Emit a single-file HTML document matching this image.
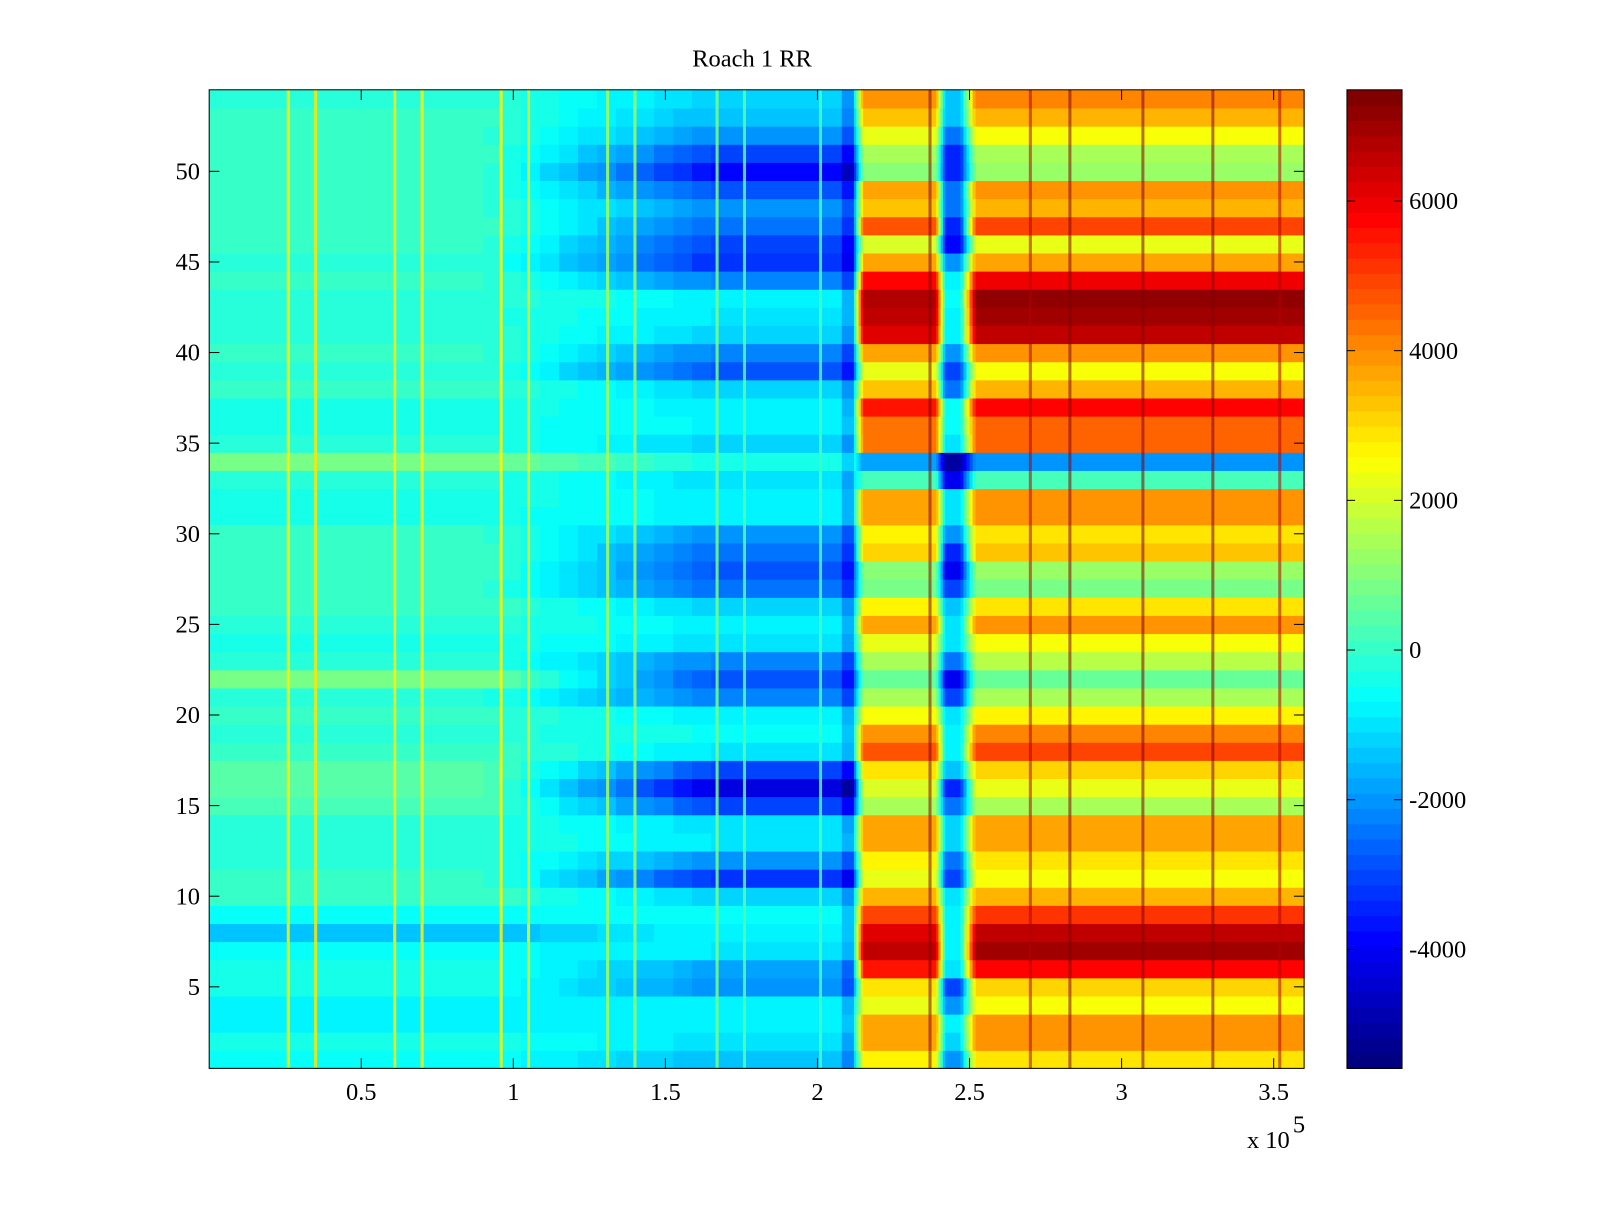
<!DOCTYPE html>
<html><head><meta charset="utf-8"><style>
html,body{margin:0;padding:0;background:#fff;}
svg text{font-family:"Liberation Serif","DejaVu Serif",serif;font-size:24px;fill:#000;}
</style></head><body>
<svg id="chart" width="1600" height="1200" viewBox="0 0 1568 1176" preserveAspectRatio="none" xmlns="http://www.w3.org/2000/svg">
<rect x="0" y="0" width="1568" height="1176" fill="#fff"/>
<text x="737" y="65" text-anchor="middle">Roach 1 RR</text>
<g id="cells"></g>
<g id="axes"></g>
<g id="cbar"></g>
</svg>
<script>
// Values listed from top row (54) down to bottom row (1)
const leftVals = [-100,0,0,100,0,0,0,100,0,-100,0,-100,-200,-100,0,-100,0,-300,-400,-200,900,-200,-300,-400,0,100,100,0,100,-200,-300,-100,900,-200,0,-200,100,400,400,300,-200,-200,-100,0,100,-500,-1500,-600,-300,-400,-700,-800,-400,-500];
const blueVals = [-1200,-1500,-2000,-3000,-3800,-2800,-2000,-2500,-3000,-3300,-2200,-800,-900,-1200,-2200,-2800,-1200,-800,-700,-1200,-400,-1000,-800,-800,-2000,-2500,-2800,-2500,-1200,-800,-1000,-2200,-2800,-2300,-800,-500,-900,-3000,-4200,-3000,-1000,-900,-2000,-3200,-1200,-600,-700,-900,-1800,-2000,-800,-700,-1000,-1500];
const hotVals = [4200,3500,2500,1500,1200,4000,3500,5000,2200,3800,6000,7200,7000,6500,4000,2500,3500,5800,4500,4500,-2000,300,4000,4000,2800,3200,1200,800,2800,4000,2500,1600,600,1500,2600,4200,5000,3000,2200,1500,3800,3800,2800,2500,3600,5200,6500,7000,5800,3000,2500,4000,4000,2800];
const notchVals = [-1500,-1500,-2500,-3500,-3500,-2500,-2500,-3500,-3800,-2000,-800,-500,-800,-800,-2000,-3000,-2500,-500,-500,-1000,-5000,-4000,-1000,-1000,-2000,-3500,-4000,-3000,-1500,-1000,-1000,-2500,-4000,-3000,-1000,-800,-800,-1500,-3500,-2500,-1200,-1200,-2500,-3000,-1000,-700,-700,-700,-1000,-3000,-2000,-800,-1200,-2000];
// Vertical streaks (x in units of 1e5) and their values
const streakX = [0.26,0.35,0.61,0.70,0.96,1.05,1.31,1.40,1.67,1.76,2.01];
const streakVals = [2600,2800,2600,2600,2700,2200,1500,1200,800,500,300];
const hotStreakX = [2.37,2.83,2.70,3.07,3.30,3.52];
const hotStreakVals = [7400,7400,6800,7400,7400,6800];
const xTicks = [0.5,1,1.5,2,2.5,3,3.5];
const yTicks = [5,10,15,20,25,30,35,40,45,50];
const cbTicks = [-4000,-2000,0,2000,4000,6000];

const NS = "http://www.w3.org/2000/svg";
const PL = 205, PR = 1278, PT = 88, PB = 1047;
const XMIN = 0, XMAX = 3.6, YMIN = 0.5, YMAX = 54.5;
const CMIN = -5590, CMAX = 7486;
function X(v){ return PL + (v - XMIN) / (XMAX - XMIN) * (PR - PL); }
function Y(v){ return PT + (YMAX - v) / (YMAX - YMIN) * (PB - PT); }
function jet(val){
  let t = (val - CMIN) / (CMAX - CMIN);
  t = Math.max(0, Math.min(1, t));
  t = Math.min(63, Math.floor(t * 64)) / 63;
  const c = x => Math.round(255 * Math.max(0, Math.min(1, x)));
  return `rgb(${c(1.5-Math.abs(4*t-3))},${c(1.5-Math.abs(4*t-2))},${c(1.5-Math.abs(4*t-1))})`;
}
function mk(tag, attrs, parent){
  const e = document.createElementNS(NS, tag);
  for (const k in attrs) e.setAttribute(k, attrs[k]);
  parent.appendChild(e);
  return e;
}
const cells = document.getElementById('cells');
function seg(x0, x1, v0, v1, row, steps){
  const y0 = Y(row + 0.5), y1 = Y(row - 0.5);
  for (let s = 0; s < steps; s++){
    const a = X(x0 + (x1 - x0) * s / steps), b = X(x0 + (x1 - x0) * (s + 1) / steps);
    const v = steps === 1 ? v0 : v0 + (v1 - v0) * (s + 0.5) / steps;
    const r = mk('rect', {x:a, y:y0, width:b - a + 0.6, height:y1 - y0 + 0.6, fill:jet(v)}, cells);
    
    
  }
}
for (let row = 1; row <= 54; row++){
  const k = 54 - row;
  const L = leftVals[k], B = blueVals[k], H = hotVals[k], N = notchVals[k];
  seg(0, 0.9, L, L, row, 1);
  seg(0.9, 1.65, L, B, row, 12);
  seg(1.65, 2.08, B, B, row, 1);
  seg(2.08, 2.12, B - 800, B - 800, row, 1);
  seg(2.12, 2.15, B, H * 0.95, row, 4);
  seg(2.15, 2.39, H * 0.95, H * 0.95, row, 1);
  seg(2.39, 2.42, H * 0.95, N, row, 4);
  seg(2.42, 2.47, N, N, row, 1);
  seg(2.47, 2.52, N, H, row, 5);
  seg(2.52, 3.6, H, H, row, 1);
}
for (let i = 0; i < streakX.length; i++){
  const l = mk('rect', {x:X(streakX[i]) - 1.5, y:PT, width:3, height:PB - PT, fill:jet(streakVals[i]), opacity:0.85}, cells);
  
  
}
for (let i = 0; i < hotStreakX.length; i++){
  const l = mk('rect', {x:X(hotStreakX[i]) - 1.5, y:PT, width:3, height:PB - PT, fill:jet(hotStreakVals[i]), opacity:0.55}, cells);
  
  
}
// axes
const axes = document.getElementById('axes');
const frame = mk('rect', {x:PL, y:PT, width:PR - PL, height:PB - PT, fill:'none', stroke:'#000', 'stroke-width':1}, axes);


xTicks.forEach(v => {
  const x = X(v);
  mk('line', {x1:x, y1:PB, x2:x, y2:PB - 10, stroke:'#000'}, axes);
  mk('line', {x1:x, y1:PT, x2:x, y2:PT + 10, stroke:'#000'}, axes);
  const t = mk('text', {x:x, y:PB + 31, 'text-anchor':'middle'}, axes);
  t.textContent = v;
  
  
});
yTicks.forEach(v => {
  const y = Y(v);
  mk('line', {x1:PL, y1:y, x2:PL + 10, y2:y, stroke:'#000'}, axes);
  mk('line', {x1:PR, y1:y, x2:PR - 10, y2:y, stroke:'#000'}, axes);
  const t = mk('text', {x:196, y:y + 8, 'text-anchor':'end'}, axes);
  t.textContent = v;
  
  
});
const ex = mk('text', {x:1222, y:1125}, axes);
ex.textContent = 'x 10';


const sup = mk('text', {x:1267, y:1110, 'font-size':'16'}, axes);
sup.textContent = '5';


// colorbar
const cb = document.getElementById('cbar');
const CL = 1320, CR = 1374;
function CY(v){ return PB - (v - CMIN) / (CMAX - CMIN) * (PB - PT); }
for (let i = 0; i < 64; i++){
  const v0 = CMIN + (CMAX - CMIN) * i / 64, v1 = CMIN + (CMAX - CMIN) * (i + 1) / 64;
  const r = mk('rect', {x:CL, y:CY(v1), width:CR - CL, height:CY(v0) - CY(v1) + 0.6, fill:jet((v0 + v1) / 2)}, cb);
  
  
}
mk('rect', {x:CL, y:PT, width:CR - CL, height:PB - PT, fill:'none', stroke:'#000'}, cb);
cbTicks.forEach(v => {
  const y = CY(v);
  mk('line', {x1:CL, y1:y, x2:CL + 8, y2:y, stroke:'#000'}, cb);
  mk('line', {x1:CR, y1:y, x2:CR - 8, y2:y, stroke:'#000'}, cb);
  const t = mk('text', {x:1381, y:y + 8}, cb);
  t.textContent = v;
  
  
});
</script>
</body></html>
